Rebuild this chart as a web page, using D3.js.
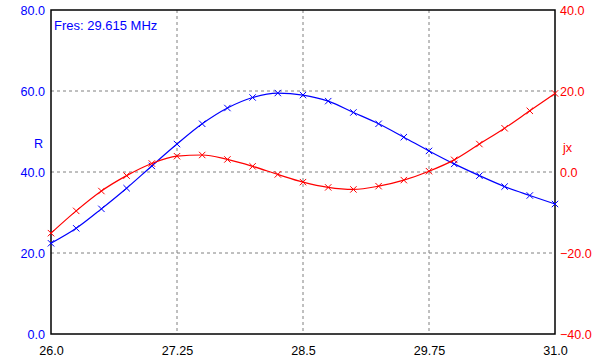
<!DOCTYPE html>
<html>
<head>
<meta charset="utf-8">
<script src="https://cdn.jsdelivr.net/npm/d3@7"></script>
<style>
  body { margin: 0; background: #fff; }
  svg { display: block; font-family: Arial, "Liberation Sans", sans-serif; font-size: 12.6px; }
</style>
</head>
<body>
<div id="chart"></div>
<script>
// Frequency sweep (MHz)
const freqs = [26.0, 26.25, 26.5, 26.75, 27.0, 27.25, 27.5, 27.75, 28.0, 28.25, 28.5,
               28.75, 29.0, 29.25, 29.5, 29.75, 30.0, 30.25, 30.5, 30.75, 31.0];
// Resistance R (left axis)
const rValues = [22.4, 26.1, 30.9, 36.0, 41.5, 46.9, 51.9, 55.8, 58.4, 59.5, 59.0,
                 57.5, 54.7, 51.9, 48.6, 45.2, 42.0, 39.1, 36.4, 34.2, 32.1];
// Reactance jx (right axis)
const jxValues = [-15.1, -9.6, -4.7, -0.9, 2.1, 3.9, 4.2, 3.1, 1.4, -0.6, -2.5,
                  -3.8, -4.3, -3.5, -2.0, 0.2, 3.0, 6.9, 10.8, 15.1, 19.4];

const xTicks = [26.0, 27.25, 28.5, 29.75, 31.0];
const xTickLabels = ["26.0", "27.25", "28.5", "29.75", "31.0"];
const rTicks = [0, 20, 40, 60, 80];
const jxTicks = [-40, -20, 0, 20, 40];

const W = 603, H = 361;
const margin = { top: 10, right: 48, bottom: 27, left: 51 };
const width = W - margin.left - margin.right;
const height = H - margin.top - margin.bottom;

const svg = d3.select("#chart").append("svg")
    .attr("width", W)
    .attr("height", H);

const g = svg.append("g")
    .attr("transform", `translate(${margin.left},${margin.top})`);

const x = d3.scaleLinear().domain([26, 31]).range([0, width]);
const yR = d3.scaleLinear().domain([0, 80]).range([height, 0]);
const yJ = d3.scaleLinear().domain([-40, 40]).range([height, 0]);

// grid lines
g.selectAll(".vgrid")
    .data(xTicks.slice(1, -1))
    .enter().append("line")
    .attr("x1", d => x(d)).attr("x2", d => x(d))
    .attr("y1", 0).attr("y2", height)
    .attr("stroke", "#808080")
    .attr("stroke-dasharray", "3,3");

g.selectAll(".hgrid")
    .data(rTicks.slice(1, -1))
    .enter().append("line")
    .attr("x1", 0).attr("x2", width)
    .attr("y1", d => yR(d)).attr("y2", d => yR(d))
    .attr("stroke", "#808080")
    .attr("stroke-dasharray", "3,3");

// plot frame
g.append("rect")
    .attr("x", 0).attr("y", 0)
    .attr("width", width).attr("height", height)
    .attr("fill", "none")
    .attr("stroke", "#000")
    .attr("stroke-width", 1.5);

// axes (labels only, no tick marks)
const leftAxis = d3.axisLeft(yR).tickValues(rTicks).tickFormat(d3.format(".1f")).tickSize(0).tickPadding(6);
g.append("g").call(leftAxis)
    .call(a => a.select(".domain").remove())
    .selectAll("text").attr("fill", "#0000ff").style("font-size", "12.6px");

const rightAxis = d3.axisRight(yJ).tickValues(jxTicks).tickFormat(d3.format(".1f")).tickSize(0).tickPadding(5);
g.append("g").attr("transform", `translate(${width},0)`).call(rightAxis)
    .call(a => a.select(".domain").remove())
    .selectAll("text").attr("fill", "#ff0000").style("font-size", "12.6px");

const bottomAxis = d3.axisBottom(x).tickValues(xTicks).tickFormat((d, i) => xTickLabels[i]).tickSize(0).tickPadding(12);
g.append("g").attr("transform", `translate(0,${height})`).call(bottomAxis)
    .call(a => a.select(".domain").remove())
    .selectAll("text").attr("fill", "#000").style("font-size", "12.6px");

// axis titles
g.append("text")
    .attr("x", -8).attr("y", yR(46))
    .attr("text-anchor", "end")
    .attr("fill", "#0000ff")
    .text("R");

g.append("text")
    .attr("x", width + 8).attr("y", yJ(5))
    .attr("fill", "#ff0000")
    .text("jx");

g.append("text")
    .attr("x", 3).attr("y", 20)
    .attr("fill", "#0000ff")
    .style("font-size", "13px")
    .text("Fres: 29.615 MHz");

// series
function drawSeries(values, yScale, color) {
    const pts = freqs.map((f, i) => [f, values[i]]);
    g.append("path")
        .attr("d", d3.line().x(d => x(d[0])).y(d => yScale(d[1])).curve(d3.curveMonotoneX)(pts))
        .attr("fill", "none")
        .attr("stroke", color)
        .attr("stroke-width", 1.2);
    const s = 3.2;
    g.selectAll(null)
        .data(pts)
        .enter().append("path")
        .attr("d", d => {
            const cx = x(d[0]), cy = yScale(d[1]);
            return `M${cx - s},${cy - s}L${cx + s},${cy + s}M${cx - s},${cy + s}L${cx + s},${cy - s}`;
        })
        .attr("stroke", color)
        .attr("stroke-width", 1);
}

drawSeries(rValues, yR, "#0000ff");
drawSeries(jxValues, yJ, "#ff0000");
</script>
</body>
</html>
